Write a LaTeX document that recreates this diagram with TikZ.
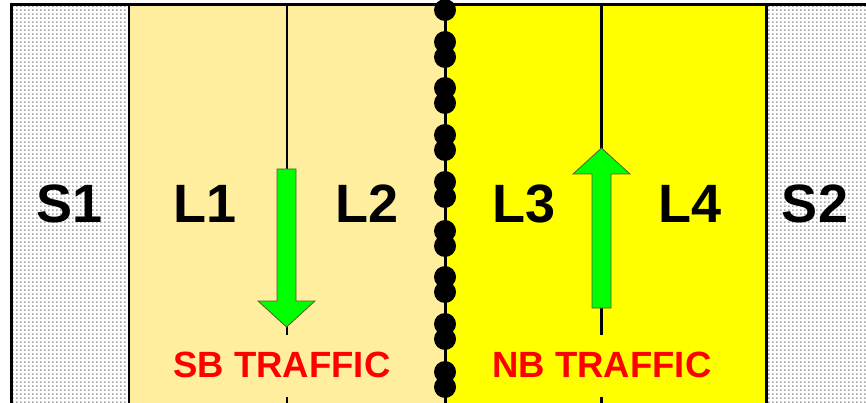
\documentclass[tikz,border=0pt]{standalone}
\usepackage{fontspec}
\setmainfont{Liberation Sans}
\usepackage{tikz}
\usetikzlibrary{patterns}

\definecolor{sbyellow}{RGB}{255,238,158}
\definecolor{nbyellow}{RGB}{255,255,0}
\definecolor{arrowgreen}{RGB}{0,255,0}
\definecolor{arrowedge}{RGB}{85,90,45}
\definecolor{gravel}{RGB}{165,165,165}

\pgfdeclarepatternformonly{gravel dots}{\pgfpointorigin}{\pgfqpoint{4pt}{4pt}}{\pgfqpoint{4pt}{4pt}}{
    \pgfpathrectangle{\pgfpointorigin}{\pgfqpoint{2pt}{2pt}}
    \pgfusepath{fill}
}

\tikzset{
    shoulder/.style={pattern=gravel dots, pattern color=gravel},
    laneline/.style={line width=2.5pt},
    marker/.style={fill=black},
    flow/.style={fill=arrowgreen, draw=arrowedge, line width=0.8pt, line join=miter},
    lanelabel/.style={font=\fontsize{54}{60}\selectfont\bfseries},
    trafficlabel/.style={text=red, font=\fontsize{36.5}{42}\selectfont\bfseries}
}

\begin{document}
\begin{tikzpicture}[x=1pt, y=-1pt]
    \useasboundingbox (0,0) rectangle (866,403);
    % shoulders and lanes
    \fill[shoulder] (11,5) rectangle (129,403);
    \fill[shoulder] (766,5) rectangle (866,403);
    \fill[sbyellow] (129,5) rectangle (445,403);
    \fill[nbyellow] (445,5) rectangle (766,403);
    \draw[line width=3pt] (11,403) -- (11,5) -- (866,5);
    \draw[line width=1.5pt] (129,5) -- (129,403);
    \draw[line width=3pt] (766,5) -- (766,403);
    % lane lines
        \draw[laneline] (287,5) -- (287,335);
        \draw[laneline] (287,397) -- (287,403);
        \draw[laneline] (601.5,5) -- (601.5,335);
        \draw[laneline] (601.5,397) -- (601.5,403);
    % centre line with raised markers
    \draw[line width=3pt] (445,5) -- (445,403);
    \fill[marker] (445,10) circle [radius=11pt];
    \foreach \y in {42,88,135,182,231,277,324,372} {
        \fill[marker] (445,\y) circle [radius=11pt];
        \fill[marker] (445,\y+15) circle [radius=11pt];
    }
    % traffic arrows
    \draw[flow] (277,169) -- (296,169) -- (296,301) -- (315,301) -- (286.5,327)
        -- (258,301) -- (277,301) -- cycle;
    \draw[flow] (592,308) -- (611,308) -- (611,174) -- (630,174) -- (601.5,148)
        -- (573,174) -- (592,174) -- cycle;
    % labels
    \node[lanelabel] (s1) at (70,204) {S1};
    \node[lanelabel] (l1) at (205,204) {L1};
    \node[lanelabel] (l2) at (367,204) {L2};
    \node[lanelabel] (l3) at (524,204) {L3};
    \node[lanelabel] (l4) at (690,204) {L4};
    \node[lanelabel] (s2) at (815,204) {S2};
    \node[trafficlabel] (sb) at (282,365) {SB TRAFFIC};
    \node[trafficlabel] (nb) at (602,365) {NB TRAFFIC};
\end{tikzpicture}
\end{document}
